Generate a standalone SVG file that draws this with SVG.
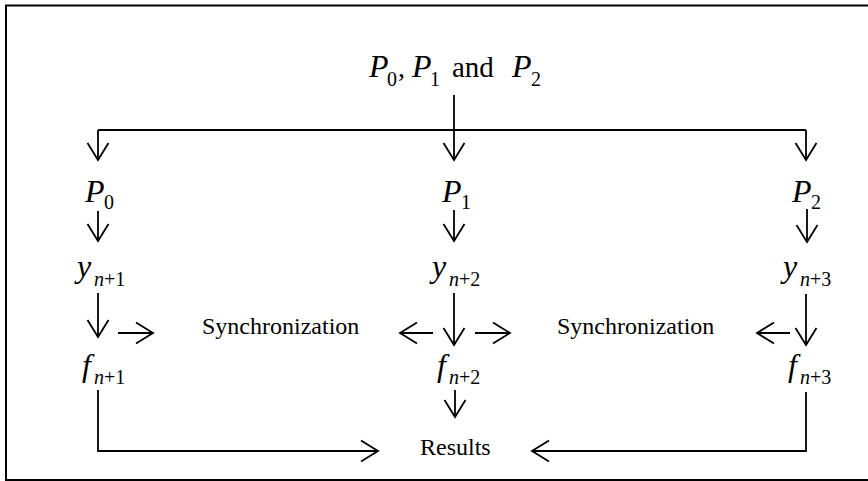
<svg xmlns="http://www.w3.org/2000/svg" width="868" height="481" viewBox="0 0 868 481">
<style>
text{font-family:"Liberation Serif","Times New Roman",serif;fill:#000}
.v{font-style:italic;font-size:32px}
.s{font-size:20px}
.t{font-size:24px}
.c{fill:none;stroke:#000;stroke-width:1.8}
</style>
<defs>
<marker id="ah" markerUnits="userSpaceOnUse" viewBox="-20 -13 22 26" markerWidth="22" markerHeight="26" refX="0" refY="0" orient="auto">
<path d="M-17,-10.5 L0,0 L-17,10.5" fill="none" stroke="#000" stroke-width="1.8"/>
</marker>
</defs>
<rect x="6" y="5.5" width="880" height="474.5" fill="#fff" stroke="#000" stroke-width="2"/>
<g id="title">
<text class="v" x="369" y="77">P</text><text class="s" x="387" y="86">0</text><text class="t" x="398" y="77" style="font-size:28px">,</text>
<text class="v" x="412" y="77">P</text><text class="s" x="430" y="86">1</text>
<text class="t" x="452" y="77" style="font-size:29px">and</text>
<text class="v" x="512" y="77">P</text><text class="s" x="531" y="86">2</text>
</g>
<g id="p0"><text class="v" x="85" y="202">P</text><text class="s" x="104" y="209">0</text></g>
<g id="p1"><text class="v" x="442" y="202">P</text><text class="s" x="461" y="209">1</text></g>
<g id="p2"><text class="v" x="792" y="202">P</text><text class="s" x="811" y="209">2</text></g>
<g id="y1"><text class="v" x="77" y="277">y</text><text class="s" x="94" y="286"><tspan font-style="italic">n</tspan>+1</text></g>
<g id="y2"><text class="v" x="432" y="277">y</text><text class="s" x="449" y="286"><tspan font-style="italic">n</tspan>+2</text></g>
<g id="y3"><text class="v" x="783" y="277">y</text><text class="s" x="800" y="286"><tspan font-style="italic">n</tspan>+3</text></g>
<g id="f1"><text class="v" x="82" y="376">f</text><text class="s" x="94" y="384"><tspan font-style="italic">n</tspan>+1</text></g>
<g id="f2"><text class="v" x="437" y="376">f</text><text class="s" x="449" y="384"><tspan font-style="italic">n</tspan>+2</text></g>
<g id="f3"><text class="v" x="788" y="376">f</text><text class="s" x="800" y="384"><tspan font-style="italic">n</tspan>+3</text></g>
<g id="sync1"><text class="t" x="202" y="334">Synchronization</text></g>
<g id="sync2"><text class="t" x="557" y="334">Synchronization</text></g>
<g id="results"><text class="t" x="420" y="455">Results</text></g>
<g id="connectors">
<path class="c" d="M98,130 H806"/>
<path class="c" d="M454,95 V160" marker-end="url(#ah)"/>
<path class="c" d="M98,130 V160" marker-end="url(#ah)"/>
<path class="c" d="M806,130 V160" marker-end="url(#ah)"/>
<path class="c" d="M98,211 V241" marker-end="url(#ah)"/>
<path class="c" d="M454,210 V241" marker-end="url(#ah)"/>
<path class="c" d="M807,209 V242" marker-end="url(#ah)"/>
<path class="c" d="M98,293 V337" marker-end="url(#ah)"/>
<path class="c" d="M454,293 V345" marker-end="url(#ah)"/>
<path class="c" d="M806,294 V345" marker-end="url(#ah)"/>
<path class="c" d="M118,333 H153" marker-end="url(#ah)"/>
<path class="c" d="M433,333 H400" marker-end="url(#ah)"/>
<path class="c" d="M475,333 H510" marker-end="url(#ah)"/>
<path class="c" d="M790,333 H757" marker-end="url(#ah)"/>
<path class="c" d="M455,390 V417" marker-end="url(#ah)"/>
<path class="c" d="M98,390 V451 H378" marker-end="url(#ah)"/>
<path class="c" d="M806,392 V451 H532" marker-end="url(#ah)"/>
</g>
</svg>
